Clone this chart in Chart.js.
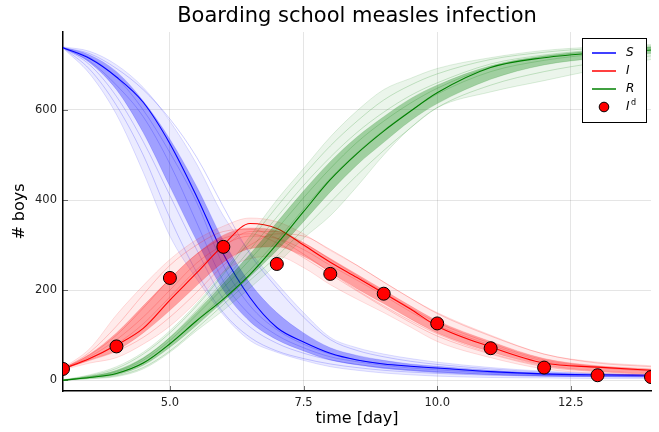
<!DOCTYPE html>
<html><head><meta charset="utf-8">
<script src="https://cdn.jsdelivr.net/npm/chart.js@4"></script>
<style>html,body{margin:0;padding:0;background:#fff}canvas{display:block}</style>
</head><body>
<canvas id="c" width="659" height="432" style="width:659px;height:432px"></canvas>
<script>
// ---------- data ----------
const titleText = "Boarding school measles infection";
const xTitle = "time [day]";
const yTitle = "# boys";
const xTicks = [5, 7.5, 10, 12.5];
const yTicks = [0, 200, 400, 600];

const T = [3,3.5,4,4.5,5,5.5,6,6.5,7,7.5,8,8.5,9,9.5,10,11,12,13,14];

// S (susceptible)
const sMain   = [738,714,673,617,525,408,280,183,117,85,60,45,36,31,27,19,14,12,11];
const sLo     = [737,680,590,462,320,225,145,88,62,44,30,22,16,12,9,6,5,4,4];
const sHi     = [740,730,700,650,575,480,365,285,215,150,95,72,58,48,40,28,20,15,12];
const sCoreLo = [738,705,645,550,430,310,200,130,90,65,45,34,26,21,17,12,9,8,7];
const sCoreHi = [739,722,685,620,535,430,310,215,150,105,72,55,44,36,31,22,16,13,11];
const sRunA   = [738,690,610,500,360,240,150,95,65,48,36,28,22,18,15,11,9,8,7];
const sRunB   = [738,725,692,645,580,495,385,280,205,140,90,66,52,42,35,25,18,14,12];
const sRunC   = [738,708,655,585,480,350,220,145,100,72,52,41,33,27,23,16,12,10,9];
const sRunD   = [738,716,672,600,505,395,255,165,112,80,58,45,36,30,26,18,13,11,10];
const sRunE   = [738,700,630,530,410,290,180,118,82,60,45,35,28,23,19,13,10,9,8];

// I (infected)
const iMain   = [25,48,78,115,178,238,300,348,337,300,262,228,193,158,120,74,38,29,22];
const iLo     = [23,38,50,80,120,175,240,270,275,250,212,180,150,118,86,50,25,15,10];
const iHi     = [27,70,145,210,268,312,342,360,352,325,288,255,218,182,150,100,58,40,32];
const iCoreLo = [24,45,66,105,155,210,262,292,296,275,240,203,170,136,105,63,33,21,15];
const iCoreHi = [26,58,105,165,225,280,322,338,332,305,270,235,200,165,132,86,48,32,25];
const iRunA   = [25,62,120,190,255,300,330,335,315,280,240,200,165,132,103,60,32,20,14];
const iRunB   = [25,44,64,95,140,195,255,300,325,320,290,255,218,182,148,98,58,38,30];
const iRunC   = [25,52,90,140,200,260,300,320,315,290,255,222,188,152,122,78,42,28,20];
const iRunD   = [25,48,80,125,185,245,295,330,330,305,268,232,195,160,128,82,45,30,22];
const iRunE   = [25,56,100,160,225,280,315,325,305,272,235,198,162,128,98,58,30,19,13];

// R (recovered)
const rMain   = [0,6,15,38,81,132,180,235,302,374,445,503,553,597,638,694,716,727,733];
const rLo     = [0,3,8,25,62,110,155,205,258,315,365,430,500,560,605,640,665,690,712];
const rHi     = [1,12,30,62,110,170,240,320,400,470,540,598,645,670,692,716,732,740,745];
const rCoreLo = [0,5,12,33,73,122,175,230,288,352,418,478,528,576,614,668,700,715,725];
const rCoreHi = [0,9,22,50,95,152,215,280,350,420,485,540,585,625,655,698,720,732,740];
const rRunA   = [0,10,26,58,105,165,235,310,385,455,520,575,622,655,680,712,728,737,742];
const rRunB   = [0,4,10,28,65,115,168,222,275,335,395,455,510,560,605,655,685,705,720];
const rRunC   = [0,7,18,44,88,145,205,268,335,405,470,528,575,615,648,695,718,730,737];
const rRunD   = [0,6,15,38,80,132,188,245,310,380,448,505,555,598,635,685,710,724,732];
const rRunE   = [0,8,20,48,95,155,220,290,362,432,495,550,595,632,660,702,722,733,739];

// observed infections
const obsDay = [3,4,5,6,7,8,9,10,11,12,13,14];
const obsInf = [25,75,227,296,258,236,192,126,71,28,11,7];

// ---------- build ----------
const BLUE=[0,0,255], RED=[255,0,0], GREEN=[0,128,0];
const rgba=(c,a)=>`rgba(${c[0]},${c[1]},${c[2]},${a})`;
const pts=arr=>arr.map((v,i)=>({x:T[i],y:v}));
const datasets=[];
function add(ds){
  datasets.push(Object.assign({pointRadius:0,borderWidth:1,cubicInterpolationMode:'monotone',fill:false},ds));
  return datasets.length-1;
}
function series(col, lo, hi, clo, chi, runs, main, base, name){
  const a = add({data:pts(lo),borderColor:rgba(col,0.13),order:base+3});
  add({data:pts(hi),borderColor:rgba(col,0.13),backgroundColor:rgba(col,0.08),fill:a,order:base+3});
  const b = add({data:pts(clo),borderColor:rgba(col,0.15),order:base+2});
  add({data:pts(chi),borderColor:rgba(col,0.15),backgroundColor:rgba(col,0.32),fill:b,order:base+2});
  runs.forEach(r=>add({data:pts(r),borderColor:rgba(col,0.2),order:base+1}));
  add({label:name,data:pts(main),borderColor:rgba(col,1),borderWidth:1.1,order:base});
}
series(BLUE, sLo,sHi,sCoreLo,sCoreHi,[sRunA,sRunB,sRunC,sRunD,sRunE],sMain,30,'S');
series(RED,  iLo,iHi,iCoreLo,iCoreHi,[iRunA,iRunB,iRunC,iRunD,iRunE],iMain,20,'I');
series(GREEN,rLo,rHi,rCoreLo,rCoreHi,[rRunA,rRunB,rRunC,rRunD,rRunE],rMain,10,'R');
datasets.push({type:'scatter',label:'Id',data:obsDay.map((d,i)=>({x:d,y:obsInf[i]})),
  backgroundColor:'#ff0000',borderColor:'#000',borderWidth:1,pointRadius:6.5,showLine:false,order:0});

const font='"DejaVu Sans", sans-serif';
const deco={
  id:'deco',
  beforeDatasetsDraw(chart){
    const ctx=chart.ctx,a=chart.chartArea,xs=chart.scales.x,ys=chart.scales.y;
    ctx.save();
    ctx.strokeStyle='rgba(0,0,0,0.55)';ctx.lineWidth=1;
    ctx.beginPath();
    xTicks.forEach(v=>{const px=Math.round(xs.getPixelForValue(v))+0.5;ctx.moveTo(px,a.bottom);ctx.lineTo(px,a.bottom-5);});
    yTicks.forEach(v=>{const py=Math.round(ys.getPixelForValue(v))+0.5;ctx.moveTo(a.left,py);ctx.lineTo(a.left+5,py);});
    ctx.stroke();
    ctx.restore();
  },
  afterDraw(chart){
    const ctx=chart.ctx,a=chart.chartArea;
    ctx.save();
    ctx.fillStyle='#000';ctx.textAlign='center';ctx.textBaseline='middle';
    ctx.font='21px '+font;
    ctx.fillText(titleText,(a.left+a.right)/2,17);
    ctx.font='16px '+font;
    ctx.fillText(xTitle,(a.left+a.right)/2,419);
    ctx.save();ctx.translate(20,(a.top+a.bottom)/2);ctx.rotate(-Math.PI/2);ctx.fillText(yTitle,0,0);ctx.restore();
    // legend
    const lx=582.5,ly=38.5,lw=64,lh=84;
    ctx.fillStyle='#fff';ctx.fillRect(lx,ly,lw,lh);
    ctx.strokeStyle='#000';ctx.lineWidth=1;ctx.strokeRect(lx,ly,lw,lh);
    const rows=[{c:BLUE,t:'S',y:53},{c:RED,t:'I',y:71},{c:GREEN,t:'R',y:89}];
    ctx.textAlign='left';
    rows.forEach(r=>{
      ctx.strokeStyle=rgba(r.c,1);ctx.lineWidth=1.5;
      ctx.beginPath();ctx.moveTo(592,r.y);ctx.lineTo(616,r.y);ctx.stroke();
      ctx.fillStyle='#000';ctx.font='italic 12px '+font;ctx.fillText(r.t,626,r.y);
    });
    ctx.beginPath();ctx.arc(604,107,4.8,0,Math.PI*2);
    ctx.fillStyle='#ff0000';ctx.fill();ctx.strokeStyle='#000';ctx.lineWidth=1;ctx.stroke();
    ctx.fillStyle='#000';ctx.font='italic 12px '+font;ctx.fillText('I',626,107);
    ctx.font='8px '+font;ctx.fillText('d',631,103);
    ctx.restore();
  }
};

new Chart(document.getElementById('c'),{
  type:'line',
  data:{datasets},
  options:{
    responsive:false,animation:false,devicePixelRatio:1,
    layout:{padding:{top:32,right:8,left:0,bottom:0}},
    plugins:{legend:{display:false},tooltip:{enabled:false},title:{display:false}},
    scales:{
      x:{type:'linear',min:3,max:14,
        afterBuildTicks:s=>{s.ticks=xTicks.map(v=>({value:v}));},
        afterFit:s=>{s.height=41;},
        ticks:{callback:v=>v.toFixed(1),font:{family:font,size:11.5},color:'#222',padding:5,maxRotation:0},
        grid:{color:'rgba(0,0,0,0.1)',drawTicks:false},
        border:{color:'#000',width:1.5}},
      y:{type:'linear',min:-24,max:773,
        afterBuildTicks:s=>{s.ticks=yTicks.map(v=>({value:v}));},
        afterFit:s=>{s.width=63;},
        ticks:{callback:v=>String(v),font:{family:font,size:11.5},color:'#222',padding:6},
        grid:{color:'rgba(0,0,0,0.1)',drawTicks:false},
        border:{color:'#000',width:1.5}}
    }
  },
  plugins:[deco]
});
</script>
</body></html>
